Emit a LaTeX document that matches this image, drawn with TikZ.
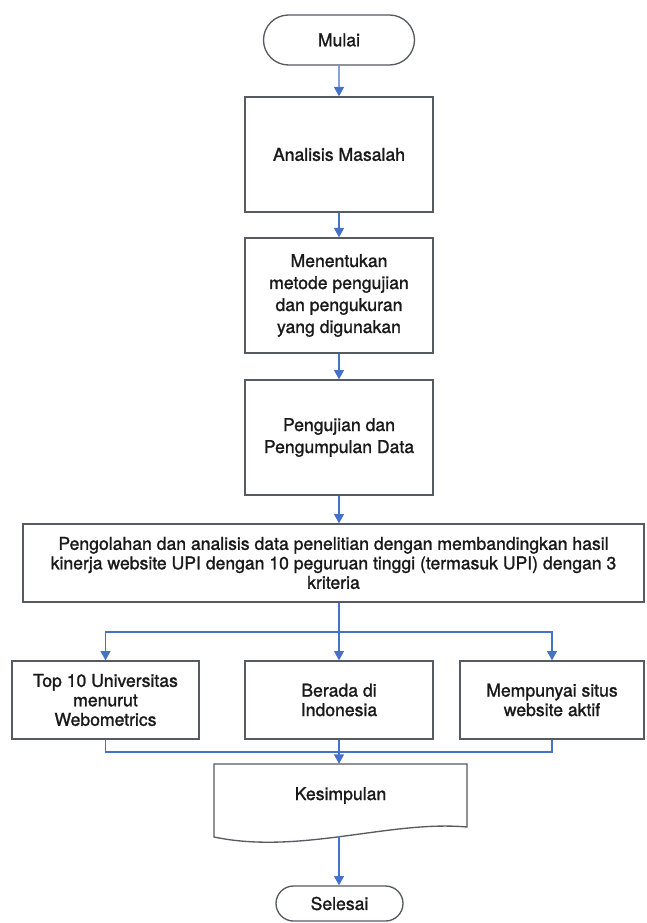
\documentclass[tikz,border=0pt]{standalone}
\usepackage{fontspec}
\setmainfont{TeX Gyre Heros}[FakeBold=1.3]
\usetikzlibrary{shapes.misc,arrows.meta}
\definecolor{linkblue}{RGB}{68,114,196}
\definecolor{edgegray}{RGB}{88,90,98}
\definecolor{txt}{RGB}{25,25,25}
\begin{document}
\begin{tikzpicture}[x=0.75pt,y=-0.75pt,
  box/.style={draw=edgegray,line width=1pt,fill=white,align=center,inner sep=0pt,text=txt,
    font=\fontsize{13.2}{16.5}\selectfont},
  tightbox/.style={box,font=\fontsize{13.2}{14.6}\selectfont},
  term/.style={box,rounded rectangle},
  link/.style={draw=linkblue,line width=0.9pt},
  arr/.style={link,-{Triangle[width=7.5pt,length=7pt]}}]
\useasboundingbox[fill=white] (0,0) rectangle (646,923);

\node[term,minimum width=113.25pt,minimum height=37.5pt] (mulai) at (339,40) {Mulai};
\node[box,minimum width=141pt,minimum height=86.25pt] (anal) at (339,154.5) {Analisis Masalah};
\node[box,minimum width=141pt,minimum height=86.25pt] (metode) at (339,295.5)
  {Menentukan\\metode pengujian\\dan pengukuran\\yang digunakan};
\node[box,minimum width=141pt,minimum height=86.25pt] (uji) at (339,437.5)
  {Pengujian dan\\Pengumpulan Data};
\node[tightbox,minimum width=465.75pt,minimum height=58.5pt] (olah) at (333.5,563)
  {Pengolahan dan analisis data penelitian dengan membandingkan hasil\\
   kinerja website UPI dengan 10 peguruan tinggi (termasuk UPI) dengan 3\\
   kriteria};
\node[tightbox,minimum width=140.25pt,minimum height=58.5pt] (top) at (105.5,700)
  {Top 10 Universitas\\menurut\\Webometrics};
\node[tightbox,minimum width=141pt,minimum height=58.5pt] (ind) at (339,700)
  {Berada di\\Indonesia};
\node[tightbox,minimum width=138pt,minimum height=58.5pt] (aktif) at (552,700)
  {Mempunyai situs\\website aktif};

% document shape for Kesimpulan
\draw[edgegray,line width=1pt,fill=white] (214,764) -- (467,764) -- (467,827)
  .. controls (390,820) and (300,855) .. (214,837) -- cycle;
\node[align=center,inner sep=0pt,text=txt,font=\fontsize{13.2}{16.5}\selectfont,
  minimum width=189.75pt,minimum height=47.25pt] (kes) at (340.5,795.5) {Kesimpulan};
\coordinate (kesb) at (339,836);

\node[term,minimum width=95.25pt,minimum height=26.25pt] (sel) at (339.5,903.5) {Selesai};

% connectors
\draw[arr] (mulai) -- (anal);
\draw[arr] (anal) -- (metode);
\draw[arr] (metode) -- (uji);
\draw[arr] (uji.south) -- (uji.south |- olah.north);
\coordinate (split) at (339,632);
\draw[arr] (olah.south -| ind.north) -- (ind.north);
\draw[arr] (split) -| (top.north);
\draw[arr] (split) -| (aktif.north);
\coordinate (join) at (339,752);
\draw[link] (top.south) |- (join);
\draw[link] (aktif.south) |- (join);
\draw[arr] (ind.south) -- (ind.south |- kes.north);
\draw[arr] (kesb) -- (kesb |- sel.north);
\end{tikzpicture}
\end{document}
